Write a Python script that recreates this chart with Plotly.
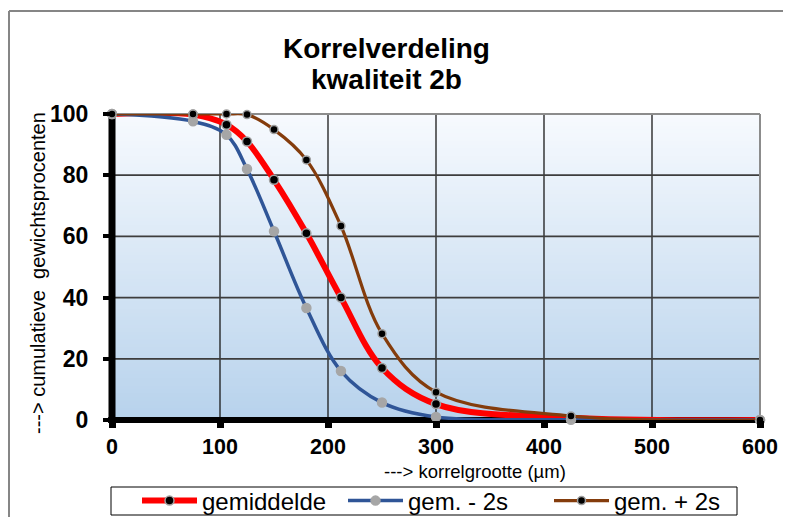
import plotly.graph_objects as go

# ---- data ----
korrel = [0, 75, 106, 125, 150, 180, 212, 250, 300, 425, 600]
gemiddelde = [100, 99.8, 96.5, 91.0, 78.5, 61.0, 40.0, 17.0, 5.2, 0.7, 0]
gem_min_2s = [100, 97.6, 93.2, 82.0, 61.7, 36.6, 16.0, 5.7, 1.0, 0.1, 0]
gem_plus_2s = [100, 100, 100, 99.8, 94.9, 85.0, 63.4, 28.2, 9.1, 1.3, 0]
series_names = ["gemiddelde", "gem. - 2s", "gem. + 2s"]
x_ticks = [0, 100, 200, 300, 400, 500, 600]
y_ticks = [0, 20, 40, 60, 80, 100]

# page offset of the plot div (default body margin of 8px on every side)
OX, OY = 8, 8
W, H = 791 - 2 * OX, 525 - 2 * OY
# plot area in window pixels: x 112..760, y 114..420
L, R, T, B = 112 - OX, (OX + W) - 760, 114 - OY, (OY + H) - 420
FONT = "Liberation Sans"


def px(p):
    """window pixel x -> paper x"""
    return (p - OX - L) / (W - L - R)


def py(p):
    """window pixel y -> paper y"""
    return (H - B - (p - OY)) / (H - T - B)


fig = go.Figure()

styles = [
    dict(color="#ff0000", width=6, mcolor="#000000", mline="#a0a0a0", msize=9),
    dict(color="#2f5597", width=3.5, mcolor="#a6a6a6", mline="#a6a6a6", msize=9),
    dict(color="#843c0c", width=3.2, mcolor="#000000", mline="#a0a0a0", msize=8),
]
for name, ys, st in zip(series_names, [gemiddelde, gem_min_2s, gem_plus_2s], styles):
    fig.add_trace(go.Scatter(
        x=korrel, y=ys, name=name, mode="lines+markers",
        line=dict(color=st["color"], width=st["width"], shape="spline", smoothing=1.0),
        marker=dict(color=st["mcolor"], size=st["msize"], line=dict(color=st["mline"], width=1.5)),
        cliponaxis=False,
    ))

shapes = []
# gradient background of the plot area
N = 80
top = (247, 250, 254)
bot = (183, 210, 236)
for i in range(N):
    f = (i + 0.5) / N
    c = tuple(round(bot[k] + (top[k] - bot[k]) * f) for k in range(3))
    shapes.append(dict(type="rect", xref="x domain", yref="y domain",
                       x0=0, x1=1, y0=i / N, y1=(i + 1.3) / N if i < N - 1 else 1,
                       fillcolor="rgb(%d,%d,%d)" % c, line=dict(width=0), layer="below"))
# gridlines (shapes above the gradient, below the curves)
for xv in x_ticks[1:-1]:
    shapes.append(dict(type="line", xref="x", yref="y domain", x0=xv, x1=xv, y0=0, y1=1,
                       line=dict(color="#1a1a1a", width=1.3), layer="below"))
for yv in y_ticks[1:-1]:
    shapes.append(dict(type="line", xref="x domain", yref="y", x0=0, x1=1, y0=yv, y1=yv,
                       line=dict(color="#3d3d3d", width=1.8), layer="below"))
# gray frame of plot area (top / right)
shapes.append(dict(type="line", xref="x domain", yref="y domain", x0=0, x1=1, y0=1, y1=1,
                   line=dict(color="#8c8c8c", width=2), layer="below"))
shapes.append(dict(type="line", xref="x domain", yref="y domain", x0=1, x1=1, y0=0, y1=1,
                   line=dict(color="#8c8c8c", width=2), layer="below"))
# thick black axes
shapes.append(dict(type="line", xref="x domain", yref="y domain", x0=0, x1=0, y0=-0.01, y1=1,
                   line=dict(color="#000000", width=7), layer="below"))
shapes.append(dict(type="line", xref="x domain", yref="y domain", x0=-0.006, x1=1, y0=0, y1=0,
                   line=dict(color="#000000", width=6), layer="below"))
# outer chart border (left and top edges visible)
shapes.append(dict(type="line", xref="paper", yref="paper",
                   x0=px(9), x1=px(900), y0=py(11), y1=py(11),
                   line=dict(color="#868686", width=2), layer="below"))
shapes.append(dict(type="line", xref="paper", yref="paper",
                   x0=px(9), x1=px(9), y0=py(11), y1=py(700),
                   line=dict(color="#868686", width=2), layer="below"))
# legend frame
shapes.append(dict(type="rect", xref="paper", yref="paper",
                   x0=px(111), x1=px(737), y0=py(515), y1=py(487),
                   line=dict(color="#000000", width=1), fillcolor="#ffffff", layer="below"))

annotations = [
    dict(text="<b>Korrelverdeling</b>", xref="paper", yref="paper", x=px(386), y=py(48),
         xanchor="center", yanchor="middle", showarrow=False,
         font=dict(family=FONT, size=28, color="#000000")),
    dict(text="<b>kwaliteit 2b</b>", xref="paper", yref="paper", x=px(386), y=py(80),
         xanchor="center", yanchor="middle", showarrow=False,
         font=dict(family=FONT, size=28, color="#000000")),
    dict(text="---> cumulatieve  gewichtsprocenten", xref="paper", yref="paper",
         x=px(38), y=py(273), textangle=-90, xanchor="center", yanchor="middle",
         showarrow=False, font=dict(family=FONT, size=20, color="#000000")),
    dict(text="---> korrelgrootte (µm)", xref="paper", yref="paper",
         x=px(475), y=py(471), xanchor="center", yanchor="middle",
         showarrow=False, font=dict(family=FONT, size=18.5, color="#000000")),
]

fig.update_layout(
    width=W, height=H,
    margin=dict(l=L, r=R, t=T, b=B, pad=0, autoexpand=False),
    paper_bgcolor="#ffffff", plot_bgcolor="rgba(0,0,0,0)",
    font=dict(family=FONT, color="#000000"),
    shapes=shapes, annotations=annotations,
    showlegend=True,
    legend=dict(orientation="h", x=px(137), y=py(501), xanchor="left", yanchor="middle",
                bgcolor="rgba(0,0,0,0)", borderwidth=0,
                font=dict(family=FONT, size=24, color="#000000"),
                itemwidth=55, entrywidth=136, tracegroupgap=0),
)
fig.update_xaxes(range=[0, 600], tickvals=x_ticks, ticktext=[str(v) for v in x_ticks],
                 showgrid=False, zeroline=False,
                 showline=False, ticks="outside", ticklen=7, tickwidth=7, tickcolor="#000000",
                 ticklabelstandoff=0,
                 tickfont=dict(family=FONT, size=21.5, color="#000000", weight="bold"))
fig.update_yaxes(range=[0, 100], tickvals=y_ticks, ticktext=[str(v) for v in y_ticks],
                 showgrid=False, zeroline=False,
                 showline=False, ticks="outside", ticklen=8, tickwidth=4, tickcolor="#000000",
                 ticklabelstandoff=10,
                 tickfont=dict(family=FONT, size=23, color="#000000", weight="bold"))

fig.write_html("out.html")
